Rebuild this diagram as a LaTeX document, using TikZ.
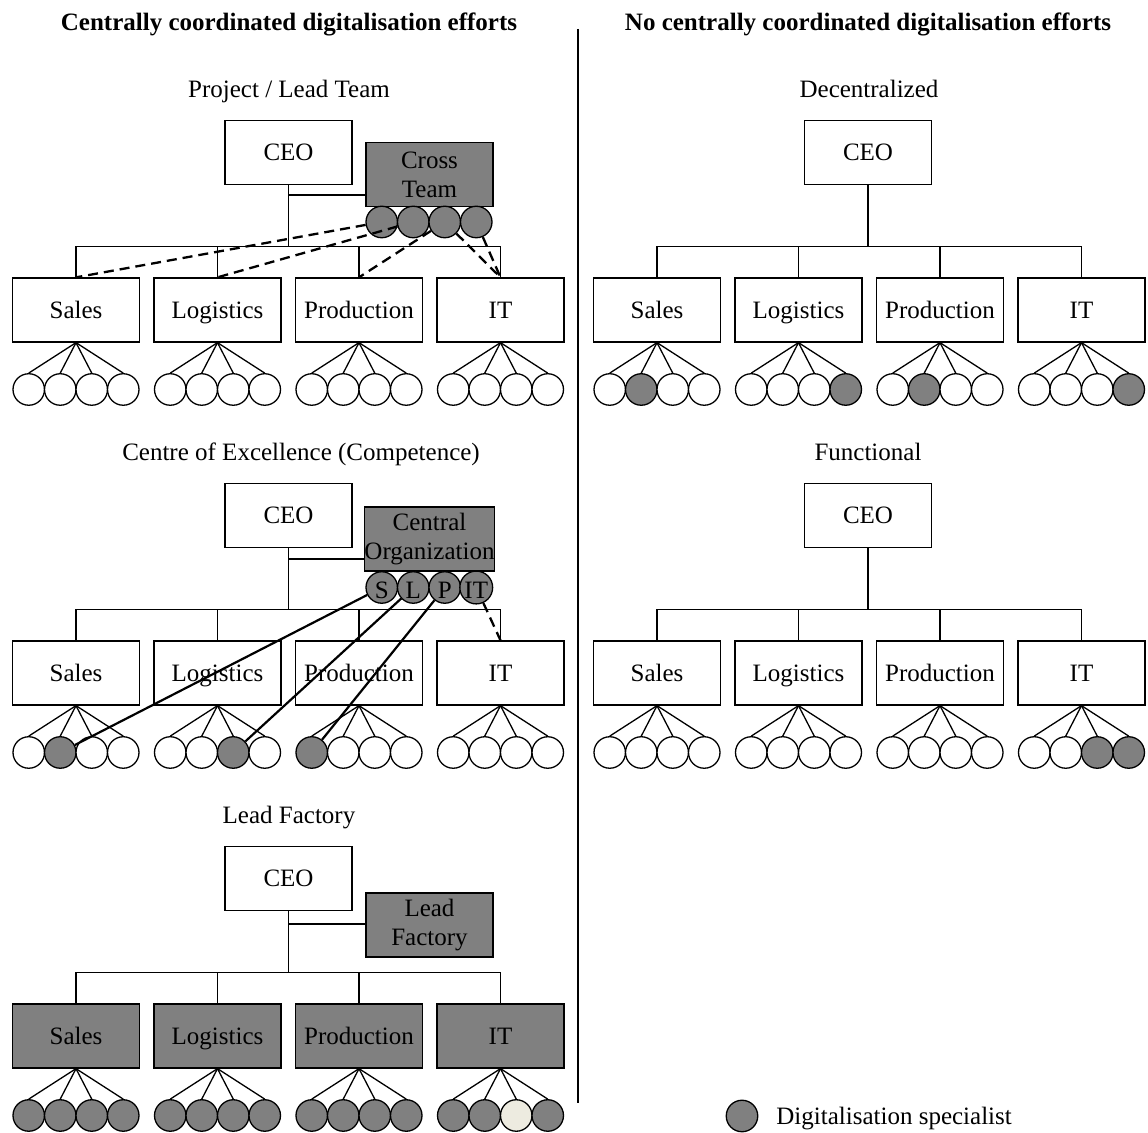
\documentclass[tikz,border=0pt]{standalone}
\usepackage{fontspec}
\setmainfont{Liberation Serif}
\definecolor{spec}{RGB}{128,128,128}
\definecolor{idle}{RGB}{237,235,224}

% One department: box plus its four staff circles fanned out below it
% #1 name, #2 label, #3 x, #4 y, #5 box style, #6-#9 circle styles
\newcommand\unitchart[9]{%
  \node[#5] (#1) at (#3,#4) {#2};
  \node[#6] (#1-1) at ({#3-47.25},{#4+79.5}) {};
  \node[#7] (#1-2) at ({#3-15.75},{#4+79.5}) {};
  \node[#8] (#1-3) at ({#3+15.75},{#4+79.5}) {};
  \node[#9] (#1-4) at ({#3+47.25},{#4+79.5}) {};
  \foreach \k in {1,...,4} {\draw[link] (#1.south) -- (#1-\k.north);}
}

% Bus from the CEO down to the four department boxes
\newcommand\buslines[6]{%
  \coordinate (#1bus) at (#2,#3);
  \draw[link] (#1ceo.south) -- (#1bus);
  \draw[link] (#4.north) -- (#4.north |- #1bus) -- (#6.north |- #1bus) -- (#6.north);
  \draw[link] (#5.north) -- (#5.north |- #1bus);
}

\begin{document}
\begin{tikzpicture}[x=0.5pt,y=-0.5pt,
  font=\fontsize{12.5}{14.5}\selectfont,
  frame/.style={draw, line width=0.65pt, minimum width=63.5pt, minimum height=32pt, inner sep=0pt, align=center},
  box/.style={frame, text height=8.3pt, text depth=0pt},
  dark/.style={box, fill=spec},
  darkpair/.style={frame, fill=spec},
  person/.style={circle, draw, line width=0.65pt, minimum size=15.75pt, inner sep=0pt, fill=white},
  expert/.style={person, fill=spec},
  rest/.style={person, fill=idle},
  tag/.style={expert, text height=2.5ex, text depth=0pt},
  caption/.style={text height=8.3pt, text depth=0pt, inner sep=0pt},
  link/.style={line width=0.65pt},
  tie/.style={line width=1.15pt, dash pattern=on 5pt off 3pt},
  assign/.style={line width=1.1pt},
  heading/.style={caption, font=\fontsize{12.5}{14.5}\selectfont\bfseries}]
\useasboundingbox (0,0) rectangle (1148,1133);

% headings and divider
\node[heading] (lefthead) at (289,22) {Centrally coordinated digitalisation efforts};
\node[heading] (righthead) at (868,22) {No centrally coordinated digitalisation efforts};
\coordinate (divtop) at (578,29);
\coordinate (divbot) at (578,1103);
\draw[line width=0.6pt] (divtop) -- (divbot);

% ---------- Project / Lead Team ----------
\node[caption] (t1) at (289,89) {Project / Lead Team};
\node[box] (aceo) at (288.5,152.5) {CEO};
\node[darkpair] (aside) at (429.5,174.5) {Cross\\Team};
\foreach \k in {1,...,4} {\node[expert] (ax\k) at ({381.75+31.5*(\k-1)},222) {};}
\coordinate (abranch) at (288.5,195);
\draw[link] (abranch) -- (abranch -| aside.west);
\unitchart{as}{Sales}{76}{310}{box}{person}{person}{person}{person}
\unitchart{al}{Logistics}{217.5}{310}{box}{person}{person}{person}{person}
\unitchart{ap}{Production}{359}{310}{box}{person}{person}{person}{person}
\unitchart{ai}{IT}{500.5}{310}{box}{person}{person}{person}{person}
\buslines{a}{288.5}{246.5}{as}{al}{ai}
\draw[link] (ap.north) -- (ap.north |- abus);
\draw[tie] (ax1) -- (as.north);
\draw[tie] (ax2) -- (al.north);
\draw[tie] (ax3) -- (ap.north);
\draw[tie] (ax3) -- (ai.north);
\draw[tie] (ax4) -- (ai.north);

% ---------- Centre of Excellence ----------
\node[caption] (t2) at (301,452) {Centre of Excellence (Competence)};
\node[box] (bceo) at (288.5,515.5) {CEO};
\node[darkpair] (bside) at (429.5,539) {Central\\Organization};
\node[tag] (bxS) at (381.75,587.5) {S};
\node[tag] (bxL) at (413.25,587.5) {L};
\node[tag] (bxP) at (444.75,587.5) {P};
\node[tag] (bxI) at (476.25,587.5) {IT};
\coordinate (bbranch) at (288.5,559);
\draw[link] (bbranch) -- (bbranch -| bside.west);
\unitchart{bs}{Sales}{76}{673}{box}{person}{expert}{person}{person}
\unitchart{bl}{Logistics}{217.5}{673}{box}{person}{person}{expert}{person}
\unitchart{bp}{Production}{359}{673}{box}{expert}{person}{person}{person}
\unitchart{bi}{IT}{500.5}{673}{box}{person}{person}{person}{person}
\buslines{b}{288.5}{609.5}{bs}{bl}{bi}
\draw[link] (bp.north) -- (bp.north |- bbus);
\draw[assign] (bxS) -- (bs-2);
\draw[assign] (bxL) -- (bl-3);
\draw[assign] (bxP) -- (bp-1);
\draw[tie] (bxI) -- (bi.north);

% ---------- Lead Factory ----------
\node[caption] (t3) at (289,815) {Lead Factory};
\node[box] (cceo) at (288.5,878.5) {CEO};
\node[darkpair] (cside) at (429.5,925) {Lead\\Factory};
\coordinate (cbranch) at (288.5,924);
\draw[link] (cbranch) -- (cbranch -| cside.west);
\unitchart{cs}{Sales}{76}{1036}{dark}{expert}{expert}{expert}{expert}
\unitchart{cl}{Logistics}{217.5}{1036}{dark}{expert}{expert}{expert}{expert}
\unitchart{cp}{Production}{359}{1036}{dark}{expert}{expert}{expert}{expert}
\unitchart{ci}{IT}{500.5}{1036}{dark}{expert}{expert}{rest}{expert}
\buslines{c}{288.5}{972.5}{cs}{cl}{ci}
\draw[link] (cp.north) -- (cp.north |- cbus);

% ---------- Decentralized ----------
\node[caption] (t4) at (869,89) {Decentralized};
\node[box] (dceo) at (868,152.5) {CEO};
\unitchart{ds}{Sales}{657}{310}{box}{person}{expert}{person}{person}
\unitchart{dl}{Logistics}{798.5}{310}{box}{person}{person}{person}{expert}
\unitchart{dp}{Production}{940}{310}{box}{person}{expert}{person}{person}
\unitchart{di}{IT}{1081.5}{310}{box}{person}{person}{person}{expert}
\buslines{d}{868}{246.5}{ds}{dl}{di}
\draw[link] (dp.north) -- (dp.north |- dbus);

% ---------- Functional ----------
\node[caption] (t5) at (868,452) {Functional};
\node[box] (eceo) at (868,515.5) {CEO};
\unitchart{es}{Sales}{657}{673}{box}{person}{person}{person}{person}
\unitchart{el}{Logistics}{798.5}{673}{box}{person}{person}{person}{person}
\unitchart{ep}{Production}{940}{673}{box}{person}{person}{person}{person}
\unitchart{ei}{IT}{1081.5}{673}{box}{person}{person}{expert}{expert}
\buslines{e}{868}{609.5}{es}{el}{ei}
\draw[link] (ep.north) -- (ep.north |- ebus);

% ---------- Legend ----------
\node[expert] (legdot) at (742,1116) {};
\node[caption, anchor=west] (legtext) at (776,1116) {Digitalisation specialist};
\end{tikzpicture}
\end{document}
